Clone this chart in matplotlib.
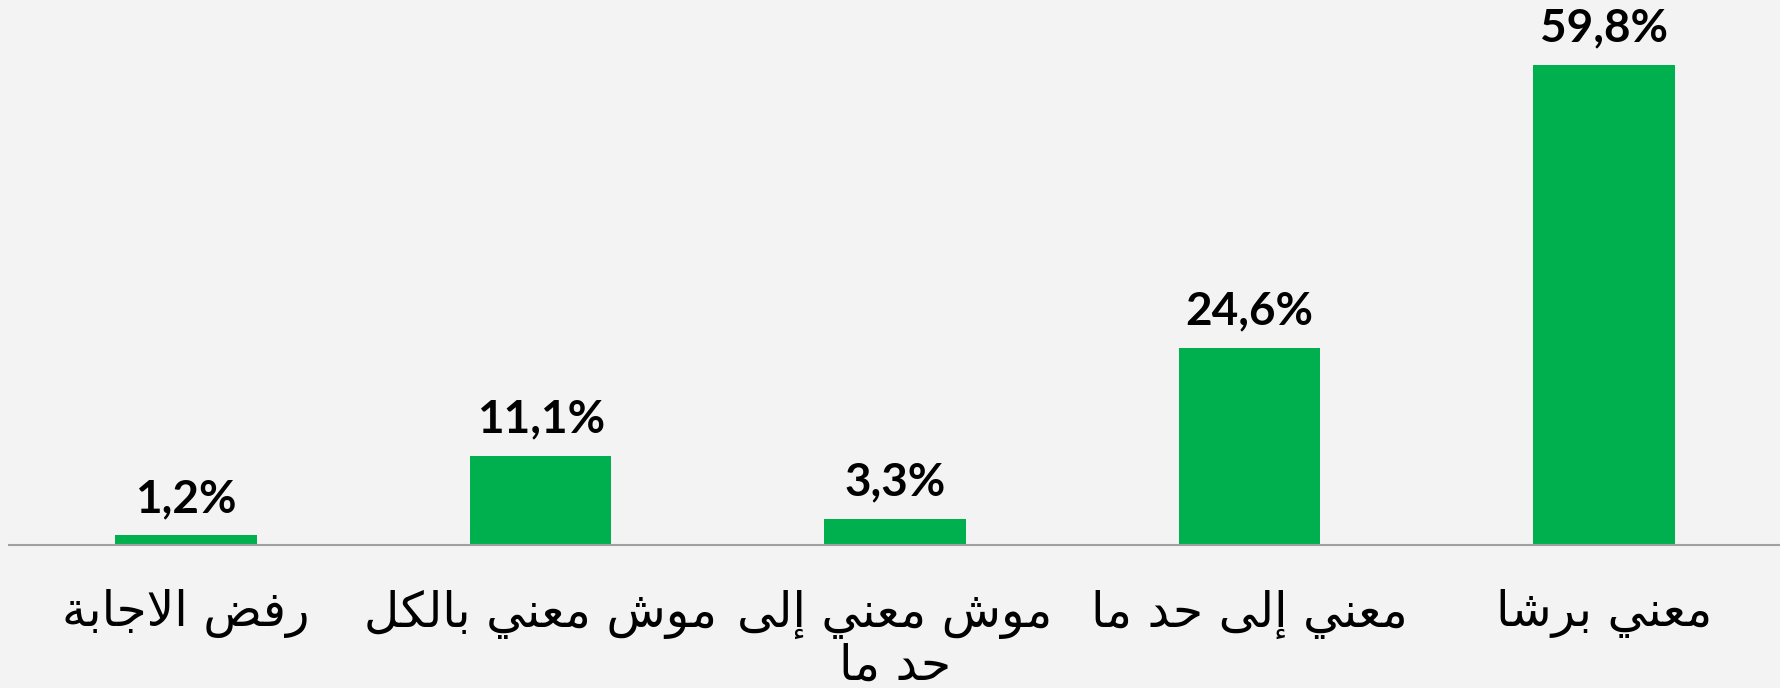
import matplotlib.pyplot as plt
import numpy as np

# Data (categories written right-to-left in the original)
categories = ["رفض الاجابة", "موش معني بالكل", "موش معني إلى\nحد ما", "معني إلى حد ما", "معني برشا"]
values = [1.2, 11.1, 3.3, 24.6, 59.8]

# --- minimal Arabic shaping (matplotlib has no text layout for RTL scripts) ---
# char: (isolated, final, initial, medial); None = right-joining only
FORMS = {
    'ا': ('\uFE8D', '\uFE8E', None, None),
    'إ': ('\uFE87', '\uFE88', None, None),
    'ب': ('\uFE8F', '\uFE90', '\uFE91', '\uFE92'),
    'ة': ('\uFE93', '\uFE94', None, None),
    'ج': ('\uFE9D', '\uFE9E', '\uFE9F', '\uFEA0'),
    'ح': ('\uFEA1', '\uFEA2', '\uFEA3', '\uFEA4'),
    'د': ('\uFEA9', '\uFEAA', None, None),
    'ر': ('\uFEAD', '\uFEAE', None, None),
    'ش': ('\uFEB5', '\uFEB6', '\uFEB7', '\uFEB8'),
    'ض': ('\uFEBD', '\uFEBE', '\uFEBF', '\uFEC0'),
    'ع': ('\uFEC9', '\uFECA', '\uFECB', '\uFECC'),
    'ف': ('\uFED1', '\uFED2', '\uFED3', '\uFED4'),
    'ك': ('\uFED9', '\uFEDA', '\uFEDB', '\uFEDC'),
    'ل': ('\uFEDD', '\uFEDE', '\uFEDF', '\uFEE0'),
    'م': ('\uFEE1', '\uFEE2', '\uFEE3', '\uFEE4'),
    'ن': ('\uFEE5', '\uFEE6', '\uFEE7', '\uFEE8'),
    'و': ('\uFEED', '\uFEEE', None, None),
    'ى': ('\uFEEF', '\uFEF0', '\uFBE8', '\uFBE9'),
    'ي': ('\uFEF1', '\uFEF2', '\uFEF3', '\uFEF4'),
}
LAM_ALEF = {'ا': ('\uFEFB', '\uFEFC'), 'إ': ('\uFEF9', '\uFEFA')}


def dual(c):
    return c in FORMS and FORMS[c][2] is not None


def shape_line(s):
    out = []
    i = 0
    while i < len(s):
        c = s[i]
        if c not in FORMS:
            out.append(c)
            i += 1
            continue
        prev = s[i - 1] if i > 0 else ' '
        joins_prev = dual(prev)
        if c == 'ل' and i + 1 < len(s) and s[i + 1] in LAM_ALEF:
            out.append(LAM_ALEF[s[i + 1]][1 if joins_prev else 0])
            i += 2
            continue
        nxt = s[i + 1] if i + 1 < len(s) else ' '
        joins_next = dual(c) and nxt in FORMS
        iso, fin, ini, med = FORMS[c]
        if joins_prev and joins_next:
            out.append(med)
        elif joins_prev:
            out.append(fin)
        elif joins_next:
            out.append(ini)
        else:
            out.append(iso)
        i += 1
    return ''.join(out)[::-1]


def arabic(s):
    return '\n'.join(shape_line(line) for line in s.split('\n'))


fig = plt.figure(figsize=(17.81, 6.88), dpi=100, facecolor='#f3f3f3')
ax = fig.add_axes([9 / 1781, 143 / 688, 1772 / 1781, 545 / 688])
ax.set_facecolor('#f3f3f3')

x = np.arange(len(categories))
bars = ax.bar(x, values, width=0.4, color='#00b04f')

for xi, v in zip(x, values):
    ax.annotate(f"{v:.1f}".replace('.', ',') + '%', (xi, v), xytext=(0, 11),
                textcoords='offset points', ha='center', va='bottom',
                fontsize=33, fontweight='bold', family='Lato', color='black')

ax.set_xlim(-0.5, 4.5)
ax.set_ylim(0, 67.9)
ax.set_xticks(x)
ax.set_xticklabels([arabic(c) for c in categories], fontsize=35, family='DejaVu Sans')
for lbl in ax.get_xticklabels():
    lbl.set_linespacing(1.09)
ax.tick_params(axis='x', length=0, pad=32)
ax.set_yticks([])
for side in ['top', 'left', 'right']:
    ax.spines[side].set_visible(False)
ax.spines['bottom'].set_color('#a0a0a0')
ax.spines['bottom'].set_linewidth(1.5)

plt.savefig('out.png', dpi=100, facecolor=fig.get_facecolor())
